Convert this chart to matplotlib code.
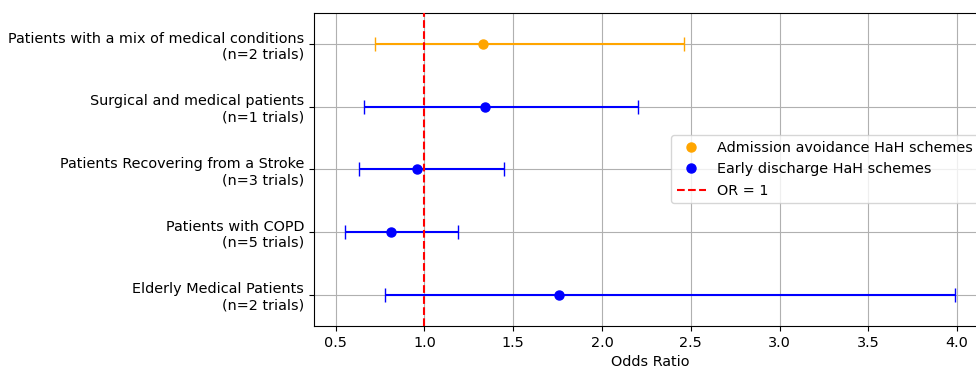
import matplotlib
matplotlib.use("Agg")
from matplotlib import pyplot as plt

plt.rcParams['font.size'] = 10.4

# forest plot data, top row first
groups = [
    "Patients with a mix of medical conditions\n(n=2 trials)",
    "Surgical and medical patients\n(n=1 trials)",
    "Patients Recovering from a Stroke\n(n=3 trials)",
    "Patients with COPD\n(n=5 trials)",
    "Elderly Medical Patients\n(n=2 trials)",
]
odds_ratio = [1.33, 1.34, 0.96, 0.81, 1.76]
ci_low = [0.72, 0.66, 0.63, 0.55, 0.78]
ci_high = [2.46, 2.20, 1.45, 1.19, 3.99]
scheme = ["Admission avoidance HaH schemes",
          "Early discharge HaH schemes",
          "Early discharge HaH schemes",
          "Early discharge HaH schemes",
          "Early discharge HaH schemes"]
colours = {"Admission avoidance HaH schemes": "orange",
           "Early discharge HaH schemes": "blue"}

fig = plt.figure(figsize=(9.76, 3.69), dpi=100)
ax = fig.add_axes([0.3217, 0.1165, 0.6885, 0.849])

ypos = list(range(len(groups)))[::-1]
seen = set()
for y, orv, lo, hi, s in zip(ypos, odds_ratio, ci_low, ci_high, scheme):
    c = colours[s]
    ax.errorbar(orv, y, xerr=[[orv - lo], [hi - orv]], fmt='none',
                ecolor=c, capsize=5, elinewidth=1.5, zorder=3)
    lab = s if s not in seen else None
    seen.add(s)
    ax.plot(orv, y, 'o', color=c, markersize=6.5, label=lab, zorder=4)

ax.axvline(1, color='red', linestyle='--', linewidth=1.5, label='OR = 1', zorder=3)

ax.set_yticks(ypos)
ax.set_yticklabels(groups, ha='right')
ax.set_ylim(-0.5, 4.5)
ax.set_xlabel('Odds Ratio')
ax.grid(True)
ax.legend(loc='center right')

fig.savefig('out.png', dpi=100)
